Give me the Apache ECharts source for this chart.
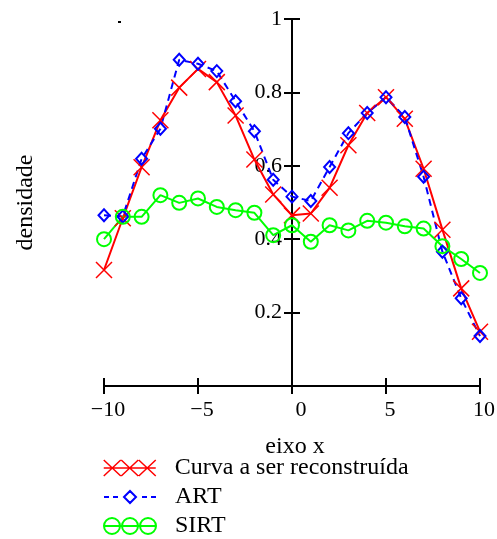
<!DOCTYPE html>
<html>
<head>
<meta charset="utf-8">
<script src="https://cdn.jsdelivr.net/npm/echarts@6/dist/echarts.min.js"></script>
<style>
  html, body { margin: 0; padding: 0; background: #fff; }
  #c { width: 497px; height: 539px; }
</style>
</head>
<body>
<div id="c"></div>
<script>
// Sample positions along the x axis
const xPos = [-10, -9, -8, -7, -6, -5, -4, -3, -2, -1, 0, 1, 2, 3, 4, 5, 6, 7, 8, 9, 10];

// Density profiles
const curva = [0.316, 0.457, 0.596, 0.724, 0.813, 0.864, 0.828, 0.737, 0.617, 0.522, 0.465,
               0.470, 0.540, 0.656, 0.744, 0.787, 0.728, 0.592, 0.426, 0.266, 0.148];
const art   = [0.465, 0.462, 0.619, 0.701, 0.889, 0.878, 0.858, 0.776, 0.694, 0.562, 0.516,
               0.504, 0.597, 0.689, 0.744, 0.787, 0.733, 0.570, 0.366, 0.239, 0.136];
const sirt  = [0.400, 0.461, 0.461, 0.520, 0.499, 0.511, 0.488, 0.479, 0.472, 0.411, 0.438,
               0.393, 0.438, 0.424, 0.450, 0.445, 0.435, 0.429, 0.381, 0.346, 0.308];

const seriesNames = ['Curva a ser reconstruída', 'ART', 'SIRT'];
const axisTitles = ['eixo x', 'densidade'];

const FONT = '"Liberation Serif", "Times New Roman", serif';
const RED = '#ff0000', BLUE = '#0000ff', GREEN = '#00ff00';
const NONE = 'rgba(0,0,0,0)';

// Plot area and the x = 0 crossing of the vertical axis
const GRID = { left: 104, right: 17, top: 19, bottom: 153 };
const X_MIN = -10, X_MAX = 10;
const PLOT_W = 497 - GRID.left - GRID.right;
const Y_AXIS_SHIFT = -PLOT_W * (0 - X_MIN) / (X_MAX - X_MIN);

// Marker shapes (stroked outlines)
const CROSS = 'path://M0,0L10,10M10,0L0,10';
const ICON_CURVA = 'path://M0,0L17,16M17,0L0,16M17.5,0L34.5,16M34.5,0L17.5,16M35,0L52,16M52,0L35,16M0,8L52,8';
const ICON_ART = 'path://M0,6L5,6M9,6L14,6M20,6L26,0L32,6L26,12ZM38,6L43,6M47,6L52,6';
const ICON_SIRT = 'path://M0,8A8,8 0 1,0 16,8A8,8 0 1,0 0,8ZM18,8A8,8 0 1,0 34,8A8,8 0 1,0 18,8ZM36,8A8,8 0 1,0 52,8A8,8 0 1,0 36,8ZM0,8L52,8';

const pairs = arr => xPos.map((x, i) => [x, arr[i]]);

const fmtX = v => {
  if (v === 0) return '{z|0}';
  return v < 0 ? '\u2212' + Math.abs(v) : String(v);
};

const axisLineStyle = { color: '#000', width: 2 };

const legendText = { fontFamily: FONT, fontSize: 24, color: '#000', padding: [0, 0, 0, 14], lineHeight: 24 };
function legendBlock(name, icon, w, h, top, stroke, bw) {
  return {
    left: 103, top: top, padding: 0, orient: 'vertical', selectedMode: false,
    itemWidth: w, itemHeight: h,
    textStyle: legendText,
    data: [{ name: name, icon: icon,
             itemStyle: { color: NONE, borderColor: stroke, borderWidth: bw } }]
  };
}

const chart = echarts.init(document.getElementById('c'), null, { renderer: 'canvas' });
chart.setOption({
  animation: false,
  backgroundColor: '#fff',
  grid: Object.assign({ containLabel: false, outerBoundsMode: 'none' }, GRID),
  legend: [
    legendBlock(seriesNames[0], ICON_CURVA, 52, 16, 456, RED, 1.5),
    legendBlock(seriesNames[1], ICON_ART, 52, 12, 485, BLUE, 2),
    legendBlock(seriesNames[2], ICON_SIRT, 52, 16, 514, GREEN, 2)
  ],
  xAxis: [
    {
      type: 'value', min: X_MIN, max: X_MAX, interval: 5, position: 'bottom',
      axisLine: { onZero: false, lineStyle: axisLineStyle },
      axisTick: { length: 8, lineStyle: axisLineStyle },
      axisLabel: {
        formatter: fmtX, margin: 13, color: '#000', fontFamily: FONT, fontSize: 22,
        padding: [0, 0, 0, 8],
        rich: { z: { fontFamily: FONT, fontSize: 22, color: '#000', padding: [0, 0, 0, 10] } }
      },
      splitLine: { show: false },
      name: axisTitles[0], nameLocation: 'middle', nameGap: 49,
      nameTextStyle: { fontFamily: FONT, fontSize: 24, color: '#000', padding: [0, 0, 0, 6] }
    },
    {
      type: 'value', min: X_MIN, max: X_MAX, interval: 5, position: 'bottom',
      axisLine: { onZero: false, lineStyle: axisLineStyle },
      axisTick: { inside: true, length: 8, lineStyle: axisLineStyle },
      axisLabel: { show: false },
      splitLine: { show: false }
    }
  ],
  yAxis: [
    {
      type: 'value', min: 0, max: 1, interval: 0.2, position: 'left', offset: Y_AXIS_SHIFT,
      axisLine: { onZero: false, lineStyle: axisLineStyle },
      axisTick: { length: 8, lineStyle: axisLineStyle },
      axisLabel: {
        formatter: v => (v === 0 ? '' : String(+v.toFixed(1))),
        margin: 10, color: '#000', fontFamily: FONT, fontSize: 22,
        verticalAlign: 'middle', padding: [8, 0, 0, 0]
      },
      splitLine: { show: false },
      name: axisTitles[1], nameLocation: 'middle', nameGap: 254,
      nameTextStyle: { fontFamily: FONT, fontSize: 24, color: '#000' }
    },
    {
      type: 'value', min: 0, max: 1, interval: 0.2, position: 'left', offset: Y_AXIS_SHIFT,
      axisLine: { onZero: false, lineStyle: axisLineStyle },
      axisTick: { inside: true, length: 8, lineStyle: axisLineStyle },
      axisLabel: { show: false },
      splitLine: { show: false }
    }
  ],
  series: [
    {
      name: seriesNames[0], type: 'line', data: pairs(curva),
      xAxisIndex: 0, yAxisIndex: 0,
      symbol: CROSS, symbolSize: 16, showAllSymbol: true,
      lineStyle: { color: RED, width: 2 },
      itemStyle: { color: NONE, borderColor: RED, borderWidth: 1.5 }
    },
    {
      name: seriesNames[1], type: 'line', data: pairs(art),
      xAxisIndex: 0, yAxisIndex: 0,
      symbol: 'diamond', symbolSize: [11, 12], showAllSymbol: true,
      lineStyle: { color: BLUE, width: 2, type: [7, 5] },
      itemStyle: { color: NONE, borderColor: BLUE, borderWidth: 2 }
    },
    {
      name: seriesNames[2], type: 'line', data: pairs(sirt),
      xAxisIndex: 0, yAxisIndex: 0,
      symbol: 'circle', symbolSize: 14, showAllSymbol: true,
      lineStyle: { color: GREEN, width: 2 },
      itemStyle: { color: NONE, borderColor: GREEN, borderWidth: 2 }
    }
  ],
  graphic: [
    { type: 'rect', left: 118, top: 21, shape: { width: 3, height: 2 }, style: { fill: '#000' }, silent: true }
  ]
});
</script>
</body>
</html>
